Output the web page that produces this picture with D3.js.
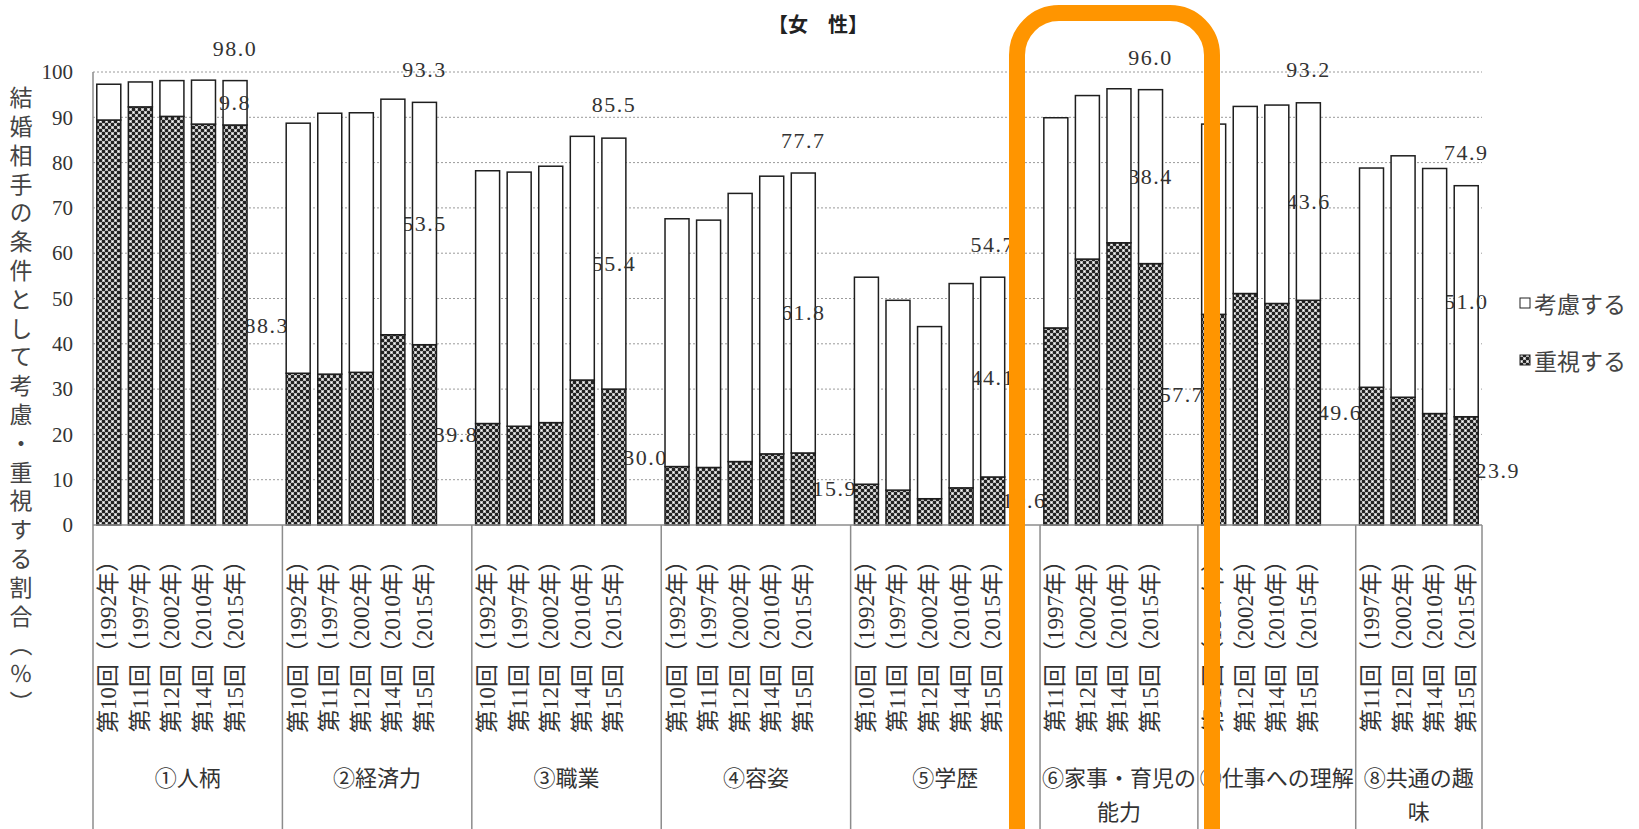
<!DOCTYPE html>
<html>
<head>
<meta charset="utf-8">
<script src="https://cdn.jsdelivr.net/npm/d3@7"></script>
<style>
  body { margin: 0; background: #fff; }
  svg { display: block; }
  .grid line { stroke: #9a9a9a; stroke-dasharray: 2,2; }
  .num { font-family: "Liberation Serif", "Noto Sans CJK JP", serif; fill: #333; }
  .jp { font-family: "Liberation Serif", "Noto Sans CJK JP", serif; fill: #333; }
</style>
</head>
<body>
<svg width="1639" height="829"></svg>
<script>
// categories
var groupNames = ["①人柄", "②経済力", "③職業", "④容姿", "⑤学歴",
                  "⑥家事・育児の能力", "⑦仕事への理解", "⑧共通の趣味"];
var rounds5 = ["第10回（1992年）", "第11回（1997年）", "第12回（2002年）", "第14回（2010年）", "第15回（2015年）"];
var rounds4 = ["第11回（1997年）", "第12回（2002年）", "第14回（2010年）", "第15回（2015年）"];
var groupRounds = [rounds5, rounds5, rounds5, rounds5, rounds5, rounds4, rounds4, rounds4];

// 重視する (%)
var jushi = [
  [89.4, 92.3, 90.2, 88.5, 88.3],
  [33.5, 33.3, 33.7, 42.0, 39.8],
  [22.4, 21.8, 22.6, 32.0, 30.0],
  [12.9, 12.7, 14.0, 15.7, 15.9],
  [9.0, 7.7, 5.8, 8.2, 10.6],
  [43.5, 58.7, 62.3, 57.7],
  [46.5, 51.1, 48.9, 49.6],
  [30.4, 28.2, 24.6, 23.9]
];
// 考慮する (%)
var koryo = [
  [7.9, 5.5, 7.9, 9.7, 9.8],
  [55.2, 57.6, 57.3, 52.0, 53.5],
  [55.8, 56.1, 56.6, 53.8, 55.4],
  [54.7, 54.6, 59.2, 61.3, 61.8],
  [45.7, 41.9, 38.0, 45.1, 44.1],
  [46.4, 36.1, 34.0, 38.4],
  [42.0, 41.3, 43.8, 43.6],
  [48.4, 53.3, 54.1, 51.0]
];
// 考慮・重視 total printed above the latest bar
var totalLabels = [98.0, 93.3, 85.5, 77.7, 54.7, 96.0, 93.2, 74.9];

var yTicks = [0, 10, 20, 30, 40, 50, 60, 70, 80, 90, 100];
var seriesNames = ["考慮する", "重視する"];
var chartTitle = "【女　性】";
var yTitle = "結婚相手の条件として考慮・重視する割合（％）";

var svg = d3.select("svg"),
    margin = {top: 72, right: 157, bottom: 304, left: 93},
    width = +svg.attr("width") - margin.left - margin.right,
    height = +svg.attr("height") - margin.top - margin.bottom;

// one slot per bar, plus an empty slot between groups
var slots = [];
groupNames.forEach(function(g, gi) {
  groupRounds[gi].forEach(function(r, ri) {
    slots.push({key: gi + "-" + ri, group: gi, round: r, j: jushi[gi][ri], k: koryo[gi][ri],
                last: ri === groupRounds[gi].length - 1});
  });
  if (gi < groupNames.length - 1) slots.push({key: "gap" + gi, group: gi, gap: true});
});
var bars = slots.filter(function(d) { return !d.gap; });
var lastBars = bars.filter(function(d) { return d.last; });
var otherBars = bars.filter(function(d) { return !d.last; });

var x = d3.scaleBand()
    .domain(slots.map(function(d) { return d.key; }))
    .range([0, width])
    .paddingInner(0.24)
    .paddingOuter(0.12);

var y = d3.scaleLinear().domain([0, 100]).range([height, 0]);

var defs = svg.append("defs");
var pat = defs.append("pattern")
    .attr("id", "checker")
    .attr("patternUnits", "userSpaceOnUse")
    .attr("width", 6).attr("height", 6);
pat.append("rect").attr("width", 6).attr("height", 6).attr("fill", "#242424");
pat.append("rect").attr("x", 0).attr("y", 0).attr("width", 3).attr("height", 3).attr("fill", "#b8b8b8");
pat.append("rect").attr("x", 3).attr("y", 3).attr("width", 3).attr("height", 3).attr("fill", "#b8b8b8");
pat.append("rect").attr("x", 1).attr("y", 1).attr("width", 1).attr("height", 1).attr("fill", "#fff");
pat.append("rect").attr("x", 4).attr("y", 4).attr("width", 1).attr("height", 1).attr("fill", "#fff");

var g = svg.append("g")
    .attr("transform", "translate(" + margin.left + "," + margin.top + ")");

// dotted gridlines
g.append("g")
    .attr("class", "grid")
  .selectAll("line")
  .data(yTicks.filter(function(t) { return t > 0; }))
  .enter().append("line")
    .attr("x1", 0).attr("x2", width)
    .attr("y1", function(d) { return y(d); })
    .attr("y2", function(d) { return y(d); });

// y axis labels
var yAxis = d3.axisLeft(y).tickValues(yTicks).tickSize(0).tickPadding(20);
var yAx = g.append("g").call(yAxis);
yAx.select(".domain").remove();
yAx.selectAll("text")
    .attr("class", "num")
    .style("font-size", "21px")
    .attr("fill", "#333");

function drawBars(sel, data) {
  var bg = sel.selectAll("g")
      .data(data)
    .enter().append("g");
  bg.append("rect")
      .attr("x", function(d) { return x(d.key); })
      .attr("width", x.bandwidth())
      .attr("y", function(d) { return y(d.j); })
      .attr("height", function(d) { return y(0) - y(d.j); })
      .attr("fill", "url(#checker)")
      .attr("stroke", "#1e1e1e")
      .attr("stroke-width", 1.5);
  bg.append("rect")
      .attr("x", function(d) { return x(d.key); })
      .attr("width", x.bandwidth())
      .attr("y", function(d) { return y(d.j + d.k); })
      .attr("height", function(d) { return y(d.j) - y(d.j + d.k); })
      .attr("fill", "#fff")
      .attr("stroke", "#1e1e1e")
      .attr("stroke-width", 1.5);
}

function addLabel(sel, cx, cy, v) {
  sel.append("text")
      .attr("x", cx).attr("y", cy)
      .attr("text-anchor", "middle").attr("dominant-baseline", "central")
      .text(d3.format(".1f")(v));
}

// layering as in the original: 重視 labels, latest bars, other labels, remaining bars
var lowLabels = g.append("g").attr("class", "num").style("font-size", "22px").style("letter-spacing", "1.5px");
lastBars.forEach(function(d) {
  addLabel(lowLabels, x(d.key) + x.bandwidth() / 2 + x.step(), y(d.j / 2), d.j);
});

drawBars(g.append("g"), lastBars);

var upLabels = g.append("g").attr("class", "num").style("font-size", "22px").style("letter-spacing", "1.5px");
lastBars.forEach(function(d) {
  var cx = x(d.key) + x.bandwidth() / 2;
  addLabel(upLabels, cx, y(totalLabels[d.group]) - 33, totalLabels[d.group]);
  addLabel(upLabels, cx, y(d.j + d.k / 2), d.k);
});

drawBars(g.append("g"), otherBars);

// category axis: baseline, group dividers
var bottomY = height + margin.bottom + 10;
g.append("line")
    .attr("x1", 0).attr("x2", width)
    .attr("y1", y(0)).attr("y2", y(0))
    .attr("stroke", "#8c8c8c").attr("stroke-width", 1.5);

var half = (x.step() - x.bandwidth()) / 2;
var bounds = groupNames.map(function(name, gi) {
  return x(gi + "-0") - half;
});
bounds.push(width);

g.append("line")
    .attr("x1", 0).attr("x2", 0)
    .attr("y1", 0).attr("y2", bottomY)
    .attr("stroke", "#8c8c8c").attr("stroke-width", 1.5);

g.selectAll(".divider")
    .data(bounds.slice(1))
  .enter().append("line")
    .attr("class", "divider")
    .attr("x1", function(d) { return d; }).attr("x2", function(d) { return d; })
    .attr("y1", y(0)).attr("y2", bottomY)
    .attr("stroke", "#8c8c8c").attr("stroke-width", 1.5);

// rotated survey labels
g.append("g").selectAll("text")
    .data(bars)
  .enter().append("text")
    .attr("class", "jp")
    .style("font-size", "23px")
    .attr("text-anchor", "end")
    .attr("dominant-baseline", "central")
    .attr("transform", function(d) {
      return "translate(" + (x(d.key) + x.bandwidth() / 2) + "," + (y(0) + 24) + ")rotate(-90)";
    })
    .text(function(d) { return d.round; });

// group labels, wrapped to the group width
groupNames.forEach(function(name, gi) {
  var x0 = bounds[gi], x1 = bounds[gi + 1];
  var t = g.append("text")
      .attr("class", "jp")
      .style("font-size", "22px")
      .attr("text-anchor", "middle")
      .attr("dominant-baseline", "central");
  var chars = Array.from(name), lines = [], line = "";
  chars.forEach(function(c) {
    t.text(line + c);
    if (t.node().getComputedTextLength() > (x1 - x0) + 2 && line) {
      lines.push(line);
      line = c;
    } else {
      line += c;
    }
  });
  lines.push(line);
  t.text(null);
  lines.forEach(function(l, li) {
    t.append("tspan")
        .attr("x", (x0 + x1) / 2)
        .attr("y", height + 253 + li * 34)
        .text(l);
  });
});

// title
svg.append("text")
    .attr("x", 818).attr("y", 23)
    .attr("text-anchor", "middle").attr("dominant-baseline", "central")
    .style("font-family", "'Noto Sans CJK JP', sans-serif")
    .style("font-size", "20px").style("font-weight", "bold")
    .attr("fill", "#222")
    .text(chartTitle);

// y axis title, vertical writing
svg.append("text")
    .attr("x", 21).attr("y", 86)
    .style("writing-mode", "vertical-rl")
    .style("font-family", "'Noto Sans CJK JP', sans-serif")
    .style("font-size", "23px")
    .style("letter-spacing", "5.8px")
    .attr("fill", "#444")
    .text(yTitle);

// legend
var legend = svg.append("g").selectAll("g")
    .data(seriesNames)
  .enter().append("g")
    .attr("transform", function(d, i) { return "translate(1520," + (303 + i * 57) + ")"; });
legend.append("rect")
    .attr("x", 0).attr("y", -5).attr("width", 10).attr("height", 10)
    .attr("fill", function(d, i) { return i === 0 ? "#fff" : "url(#checker)"; })
    .attr("stroke", "#222").attr("stroke-width", 1);
legend.append("text")
    .attr("x", 14).attr("y", 0)
    .attr("dominant-baseline", "central")
    .style("font-family", "'Noto Sans CJK JP', sans-serif")
    .style("font-size", "23px")
    .attr("fill", "#444")
    .text(function(d) { return d; });

// orange highlight around ⑥
svg.append("rect")
    .attr("x", 1017).attr("y", 13)
    .attr("width", 195).attr("height", 900)
    .attr("rx", 42).attr("ry", 42)
    .attr("fill", "none")
    .attr("stroke", "#ff9500")
    .attr("stroke-width", 16);
</script>
</body>
</html>
